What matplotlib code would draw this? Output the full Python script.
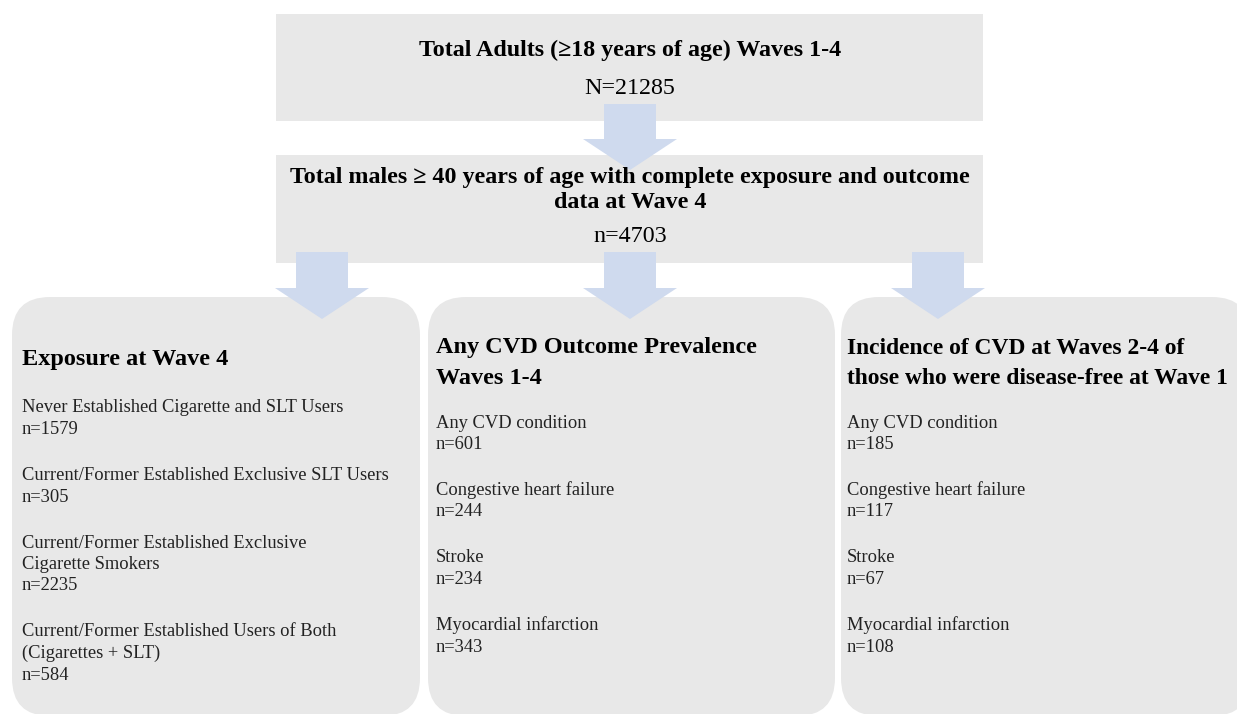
import matplotlib
matplotlib.use("Agg")
import matplotlib.pyplot as plt
from matplotlib.patches import FancyBboxPatch, Rectangle, Polygon

# ---- data ----
top_title = "Total Adults (\u226518 years of age) Waves 1-4"
top_n = "N=21285"
second_title = ["Total males \u2265 40 years of age with complete exposure and outcome",
                "data at Wave 4"]
second_n = "n=4703"

exposure_title = ["Exposure at Wave 4"]
exposure_labels = [["Never Established Cigarette and SLT Users"],
                   ["Current/Former Established Exclusive SLT Users"],
                   ["Current/Former Established Exclusive", "Cigarette Smokers"],
                   ["Current/Former Established Users of Both", "(Cigarettes + SLT)"]]
exposure_n = [1579, 305, 2235, 584]

prev_title = ["Any CVD Outcome Prevalence", "Waves 1-4"]
cvd_labels = [["Any CVD condition"], ["Congestive heart failure"], ["Stroke"],
              ["Myocardial infarction"]]
prev_n = [601, 244, 234, 343]

inc_title = ["Incidence of CVD at Waves 2-4 of",
             "those who were disease-free at Wave 1"]
inc_n = [185, 117, 67, 108]

# ---- style ----
W, H = 1237, 714
BOX = "#e8e8e8"
ARROW = "#cfdaee"
SERIF = ["Liberation Serif", "DejaVu Serif"]


def pt(px):
    return px * 72 / 100


fig = plt.figure(figsize=(W / 100, H / 100), dpi=100)
ax = fig.add_axes([0, 0, 1, 1])
ax.set_xlim(0, W)
ax.set_ylim(H, 0)
ax.axis("off")

# top boxes
ax.add_patch(Rectangle((276, 14), 707, 107, color=BOX, lw=0))
ax.add_patch(Rectangle((276, 155), 707, 108, color=BOX, lw=0))

# bottom rounded boxes (the right one runs off the edge)
r = 38
for x0, x1 in [(12, 420), (428, 835), (841, 1250)]:
    ax.add_patch(FancyBboxPatch((x0 + r, 297 + r), x1 - x0 - 2 * r, 716 - 297 - 2 * r,
                                boxstyle=f"round,pad={r}", color=BOX, lw=0,
                                mutation_aspect=1))


def arrow(cx, top, tip):
    # block arrow pointing down
    sw, hw, hh = 26, 47, 31
    pts = [(cx - sw, top), (cx + sw, top), (cx + sw, tip - hh), (cx + hw, tip - hh),
           (cx, tip), (cx - hw, tip - hh), (cx - sw, tip - hh)]
    ax.add_patch(Polygon(pts, closed=True, color=ARROW, lw=0, zorder=3))


arrow(630, 104, 170)
for cx in [322, 630, 938]:
    arrow(cx, 252, 319)

# top texts
ax.text(630, 50, top_title, ha="center", va="center", family=SERIF,
        fontweight="bold", fontsize=pt(24), zorder=4)
ax.text(630, 88, top_n, ha="center", va="center", family=SERIF,
        fontsize=pt(24), zorder=4)
for i, line in enumerate(second_title):
    ax.text(630, 178 + i * 24, line, ha="center", va="center", family=SERIF,
            fontweight="bold", fontsize=pt(24), zorder=4)
ax.text(630, 236, second_n, ha="center", va="center", family=SERIF,
        fontsize=pt(24), zorder=4)


def column(x, title, labels, counts, title_y, item_y, title_px=24.3):
    for i, line in enumerate(title):
        ax.text(x, title_y + i * 30, line, ha="left", va="center", family=SERIF,
                fontweight="bold", fontsize=pt(title_px), zorder=4, clip_on=True)
    y = item_y
    for lab, n in zip(labels, counts):
        for line in lab + [f"n={n}"]:
            ax.text(x, y, line, ha="left", va="center", family=SERIF,
                    fontsize=pt(18.5), color="#222222", zorder=4, clip_on=True)
            y += 21.5
        y += 24.5


column(22, exposure_title, exposure_labels, exposure_n, 360, 408)
column(436, prev_title, cvd_labels, prev_n, 348, 423)
column(847, inc_title, cvd_labels, inc_n, 348, 423, title_px=23.5)

fig.savefig("out.png", dpi=100)
